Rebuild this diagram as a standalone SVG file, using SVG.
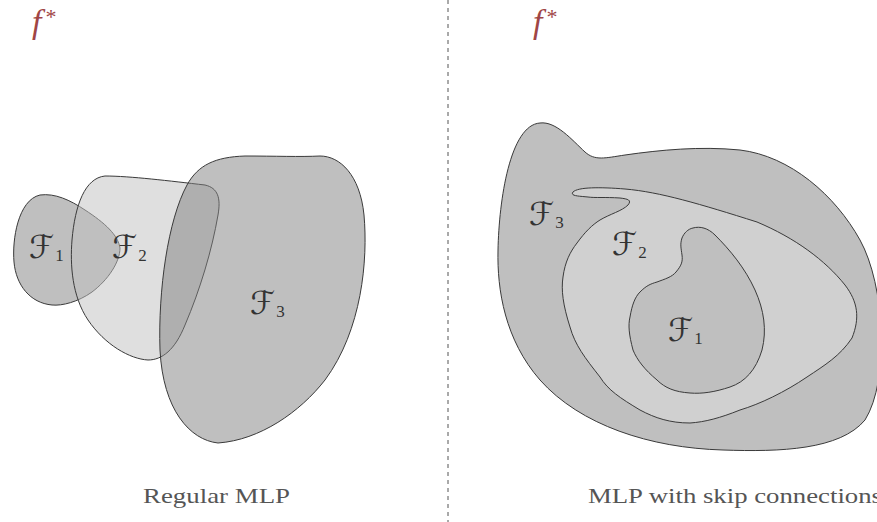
<svg xmlns="http://www.w3.org/2000/svg" width="877" height="522" viewBox="0 0 877 522">
<style>
.shape{stroke:#3a3a3a;stroke-width:1}
.lab{font-family:"DejaVu Serif","DejaVu Sans",serif;font-size:32px;fill:#333}
.sub{font-family:"Liberation Serif",serif;font-size:17px;fill:#333}
.fstar{font-family:"Liberation Serif",serif;font-style:italic;font-size:34px;fill:#a04545}
.star{font-family:"Liberation Serif",serif;font-style:normal;font-size:22px}
.cap{font-family:"Liberation Serif",serif;font-size:22px;fill:#555}
</style>
<rect width="877" height="522" fill="#fff"/>
<g id="divider"><line x1="448" y1="0" x2="448" y2="522" stroke="#555" stroke-width="1" stroke-dasharray="4,4"/></g>

<g id="left-panel">
<text class="fstar" x="32" y="33">f<tspan class="star" dx="4" dy="-9">*</tspan></text>
<g id="L-F1">
<path class="shape" fill="#808080" fill-opacity="0.5" d="M40,195 C55,193 70,200 85,210 C105,223 118,235 120,248 C120,262 108,280 92,292 C78,302 62,306 52,305 C30,303 16,285 14,262 C12,240 18,200 40,195 Z"/>
<text class="lab" x="29" y="258">ℱ<tspan class="sub" dx="1" dy="3">1</tspan></text>
</g>
<g id="L-F2">
<path class="shape" fill="#c0c0c0" fill-opacity="0.5" d="M105,176 C130,176 170,181 205,185 C218,188 221,198 218,215 C212,250 200,290 185,325 C175,350 162,360 148,360 C130,359 105,345 88,320 C72,296 70,265 72,240 C75,205 85,178 105,176 Z"/>
<text class="lab" x="112" y="258">ℱ<tspan class="sub" dx="1" dy="3">2</tspan></text>
</g>
<g id="L-F3">
<path class="shape" fill="#808080" fill-opacity="0.5" d="M187,185 C198,165 215,157 245,156 C275,156 300,157 320,156 C340,156 360,175 364,215 C368,260 362,330 325,380 C300,412 260,440 218,443 C190,440 163,410 160,350 C158,290 168,220 187,185 Z"/>
<text class="lab" x="250" y="314">ℱ<tspan class="sub" dx="1" dy="3">3</tspan></text>
</g>
<text class="cap" x="143" y="503" textLength="147" lengthAdjust="spacingAndGlyphs">Regular MLP</text>
</g>

<g id="right-panel">
<text class="fstar" x="533" y="33">f<tspan class="star" dx="4" dy="-9">*</tspan></text>
<g id="R-F3">
<path class="shape" fill="#bfbfbf" d="M540,123 C556,121 572,140 585,152 C595,161 605,158 625,155 C660,150 700,146 740,150 C790,156 835,195 860,240 C885,285 890,380 865,420 C840,450 780,452 723,450 C650,448 580,425 540,380 C505,340 497,290 498,250 C499,200 510,125 540,123 Z"/>
<text class="lab" x="529" y="225">ℱ<tspan class="sub" dx="1" dy="3">3</tspan></text>
</g>
<g id="R-F2">
<path class="shape" fill="#d0d0d0" d="M573,192 C578,187 600,187 625,189 C660,192 700,204 757,222 C795,238 825,260 845,285 C858,302 860,318 852,338 C840,356 825,365 807,377 C785,392 760,404 740,410 C720,418 705,422 690,423 C670,423 655,418 640,410 C620,398 608,390 600,377 C585,358 575,345 570,327 C563,305 561,290 563,277 C565,262 570,252 577,243 C585,232 592,225 600,220 C610,214 622,211 628,205 C632,200 628,199 620,198 C605,197 595,198 588,197 C578,196 570,196 573,192 Z"/>
<text class="lab" x="612" y="255">ℱ<tspan class="sub" dx="1" dy="3">2</tspan></text>
</g>
<g id="R-F1">
<path class="shape" fill="#bfbfbf" d="M693,228 C700,226 708,228 715,235 C730,250 745,268 755,290 C764,310 767,330 762,350 C756,370 745,382 730,387 C715,392 702,394 690,393 C675,392 665,388 657,380 C645,370 637,360 633,350 C629,335 628,325 630,317 C632,305 635,297 640,292 C646,286 650,284 657,282 C665,279 672,277 676,272 C681,266 683,262 682,255 C681,248 680,244 682,238 C684,233 688,229 693,228 Z"/>
<text class="lab" x="668" y="341">ℱ<tspan class="sub" dx="1" dy="3">1</tspan></text>
</g>
<text class="cap" x="588" y="503" textLength="294" lengthAdjust="spacingAndGlyphs">MLP with skip connections</text>
</g>
</svg>
